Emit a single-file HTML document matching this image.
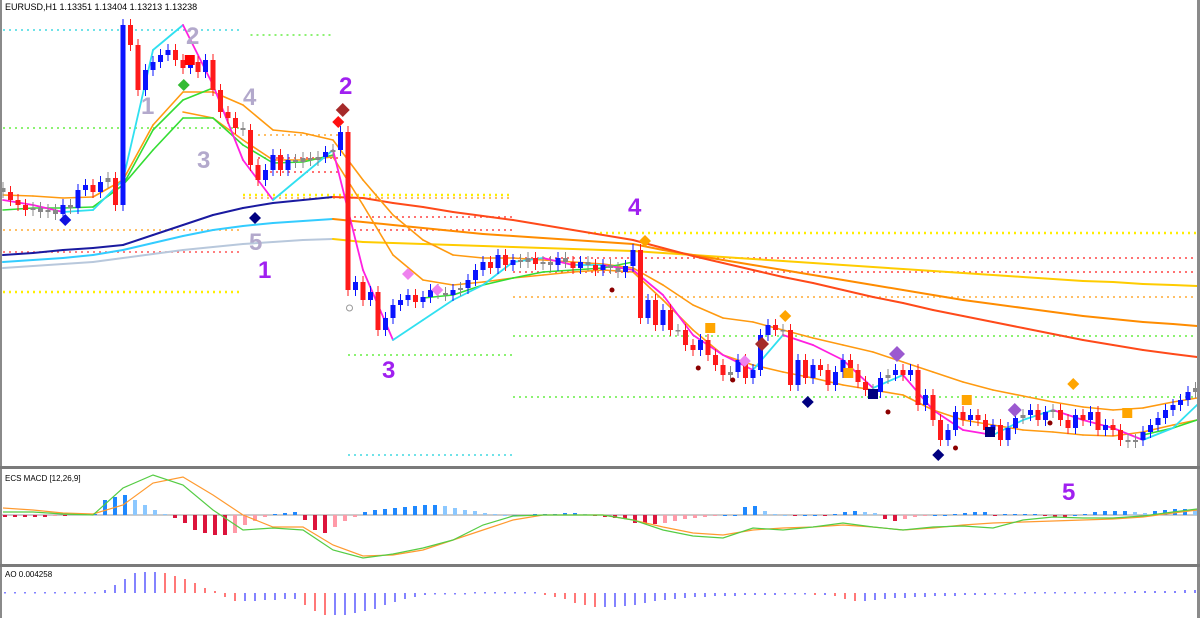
<!DOCTYPE html>
<html><head><meta charset="utf-8">
<style>
html,body{margin:0;padding:0;background:#fff;}
svg{display:block;font-family:"Liberation Sans",sans-serif;}
</style></head>
<body>
<svg id="chart" width="1200" height="618" viewBox="0 0 1200 618" xmlns="http://www.w3.org/2000/svg">
<rect x="0" y="0" width="1200" height="618" fill="#ffffff"/>
<g id="levels"></g>
<g id="mas"></g>
<g id="candles"></g>
<g id="markers"></g>
<g id="macd"></g>
<g id="ao"></g>
<rect x="0" y="0" width="2" height="618" fill="#8a8a8a"/>
<rect x="1197" y="0" width="3" height="618" fill="#8a8a8a"/>
<rect x="0" y="466" width="1200" height="3" fill="#7a7a7a"/>
<rect x="0" y="564" width="1200" height="3" fill="#7a7a7a"/>
<text x="5" y="10" font-size="9" fill="#000">EURUSD,H1  1.13351 1.13404 1.13213 1.13238</text>
<text x="5" y="481" font-size="8" fill="#000">ECS MACD [12,26,9]</text>
<text x="5" y="577" font-size="8" fill="#000">AO 0.004258</text>
<g font-weight="bold" font-size="24">
<text x="141" y="114" fill="#b3a9cc">1</text>
<text x="186" y="44" fill="#b3a9cc">2</text>
<text x="197" y="168" fill="#b3a9cc">3</text>
<text x="243" y="105" fill="#b3a9cc">4</text>
<text x="249" y="250" fill="#b3a9cc">5</text>
<text x="339" y="94" fill="#a020f0">2</text>
<text x="258" y="278" fill="#a020f0">1</text>
<text x="382" y="378" fill="#a020f0">3</text>
<text x="628" y="215" fill="#a020f0">4</text>
<text x="1062" y="500" fill="#a020f0">5</text>
</g>
</svg>
<script>
// ---------- DATA (price in points: 11324 = 1.1324) ----------
const closes = [11324,11320,11317.5,11315,11316,11314,11315,11313,11317.5,11316,
11325,11327.5,11324,11329,11331,11317.5,11407.5,11397.5,11375,11385,
11389,11392.5,11395,11390,11386,11389,11384,11390,11375,11364,
11361,11356,11355,11337.5,11330,11335,11342.5,11335,11340,11339,
11341,11340,11341.5,11344,11345,11354,11275,11279,11270,11274,
11255,11261,11267.5,11270,11272.5,11269,11271.5,11275,11273.5,11272.5,
11275,11276,11280,11285,11289,11286,11292.5,11287.5,11290,11289,
11291,11288,11289,11287.5,11291,11289,11286,11289,11287.5,11285,
11287.5,11286,11284,11287,11295,11261,11270,11257.5,11265,11255,
11255,11247.5,11245,11250,11242.5,11237.5,11232.5,11234,11240,11231,
11235,11252.5,11257.5,11255,11255,11227.5,11240,11231,11237.5,11235,
11227.5,11234,11240,11235,11229,11225,11224,11231,11232.5,11235,
11232.5,11235,11217.5,11222.5,11210,11200,11205,11214,11210,11212.5,
11210,11205,11207.5,11200,11206,11211,11212.5,11215,11210,11214,
11215,11210,11206,11212.5,11210,11214,11205,11207.5,11205,11200,
11199,11200,11204,11207.5,11211,11215,11217.5,11220,11224,11226];
const regimeChangeBar = 46;
const ma200 = [11292.5,11293.5,11295,11296,11297.5,11302.5,11307.5,11312.5,11316,11318.5,11320,11321.5,11321,11318.5,11316.5,11314,11312,11310,11307.5,11305,11302.5,11300,11296,11292,11288.5,11285,11281.5,11278.5,11275,11271.5,11268.5,11265,11262,11259,11256,11253,11250,11247.5,11245,11243,11241.5];
const ma100 = [11289,11290,11291,11292.5,11295,11298.5,11302,11305,11307,11308.5,11309.5,11310.5,11309,11307.5,11306,11304.5,11303,11302,11301,11300,11299,11298,11295,11292.5,11290,11287.5,11285,11282.5,11280,11277.5,11275,11272.5,11270,11268,11266,11264,11262,11260.5,11259,11258,11257];
const ma50 = [11286,11287,11288,11289,11291,11293,11295,11296.5,11298,11299,11300,11300.5,11299,11298.5,11298,11297.5,11297,11296.5,11296,11295.5,11295,11294.5,11293.5,11292.5,11291.5,11290.5,11289.5,11288.5,11287.5,11286.5,11285.5,11284.5,11283.5,11282.5,11281.5,11280.5,11279.5,11279,11278,11277.5,11277];
const bandUpper = [11322.5,11322,11321,11321.5,11330,11357.5,11374,11374,11367.5,11355,11353.5,11350,11330,11312.5,11300,11292.5,11291,11291,11290,11289,11288,11286,11277.5,11267.5,11261,11259,11255,11251,11247.5,11244,11239,11234,11229,11225,11222,11219,11216.5,11215,11216,11219,11221];
const bandLower = [null,null,null,null,null,null,11364,11361,11350,11340,11340,11341.5,11317.5,11292.5,11280,11277.5,11279,11281,11282.5,11284,11285,11284,11270,11255,11242.5,11237.5,11234,11231,11227.5,11225,11222.5,11215,11210,11207.5,11205,11204,11202.5,11202,11204,11207.5,11210];
const greenLine = [11315,11316,11316,11316.5,11327.5,11345,11361,11361,11347.5,11338.5,11339,11342.5,null,null,11271,11272.5,11277.5,11281,11284,11285,11286,11289,null,null,null,null,null,null,null,null,null,null,null,null,null,null,null,null,11202.5,11206,11210];
const greenUpper = [null,null,null,11316.5,11327.5,11355,11370,11376,null,null,null,null,null,null,null,null,null,null,null,null,null,null,null,null,null,null,null,null,null,null,null,null,null,null,null,null,null,null,null,null,null];
const fastLine = [11320,11317.5,11314,11315,11330,11395,11407.5,11377.5,11340,11320,11332.5,11345,11285,11250,11260,11270,11277.5,11289,11291,11287.5,11287.5,11285,11272.5,11252.5,11242.5,11235,11252.5,11247.5,11240,11226,11232.5,11215,11205,11202.5,11210,11215,11210,11206,11200,11206,11217.5];
const levelPrices = [11405,11356,11305,11274,11294,11402.5,11352.5,11341,11334,11322.5,11321,11311.5,11305,11242.5,11192.5,11303.5,11291,11284,11271.5,11252,11221.5];
const levelStart  = [0,0,0,0,0,33,34,34,34,32,32,46,46,46,46,78,68,68,68,68,68];
const levelEnd    = [32,32,32,32,32,44,45,45,45,68,68,68,68,68,68,160,160,160,160,160,160];
const levelColors = ["#40d8e0","#66ee44","#ffaa33","#ffee00","#ff5555","#66ee44","#ffaa33","#ff4444","#ff4444","#ffee00","#ffaa33","#ff4444","#ff4444","#66ee44","#40d8e0","#ffee00","#ff4444","#ff4444","#ffaa33","#66ee44","#66ee44"];
const markerBars   = [8.3,33.6,24.1,24.9,45.3,44.7,54,57.9,98.9,94.3,112.7,128.5,149.9,104.3,142.7,85.6,101.2,119.2,134.9,107.3,124.7,116,131.6,81.2,92.7,97.3,118,139.6,46.2,127];
const markerPrices = [11310,11311,11377.5,11390,11365,11359,11283,11275,11239.5,11256,11233.5,11220,11213.5,11262,11228,11299.5,11248,11243,11215,11219,11192.5,11223,11204,11275,11236,11230,11214,11208.5,11266,11196];
const markerTypes  = ["diamond","diamond","diamond","square","diamond","diamond","diamond","diamond","diamond","square","square","square","square","diamond","diamond","diamond","diamond","diamond","diamond","diamond","diamond","square","square","dot","dot","dot","dot","dot","circle","dot"];
const markerColors = ["#1010e0","#000080","#33bb33","#ff0000","#a52a2a","#ff1010","#ee82ee","#ee82ee","#ee82ee","#ffa500","#ffa500","#ffa500","#ffa500","#ffa500","#ffa500","#ffa500","#a52a2a","#9b59d0","#9b59d0","#000080","#000080","#000080","#000080","#8b0000","#8b0000","#8b0000","#8b0000","#8b0000","#999999","#8b0000"];
const markerSizes  = [6,6,6,6,7,6,6,6,6,6,6,6,6,6,6,6,7,8,7,6,6,6,6,2.5,2.5,2.5,2.5,2.5,3,2.5];
const macdHist = [-2,-2,-2,-2,-2,-1,-1,1,1,1,
15,18,20,15,10,5,1,-3,-8,-15,
-18,-20,-20,-18,-10,-6,-2,1,2,3,
-5,-15,-18,-12,-6,-2,3,5,6,7,
8,9,10,10,9,7,5,4,2,1,
0,0,0,1,1,1,2,2,1,-1,
-2,-3,-4,-8,-9,-9,-8,-6,-4,-3,
-2,-1,0,0,8,9,4,1,0,-1,
0,0,-1,1,3,4,3,2,-4,-6,
-4,-2,-1,0,0,1,2,3,3,-1,
1,1,1,1,-1,-2,-2,0,1,3,
4,4,4,3,2,4,5,6,6,5];
const macdMain = [3,3,1,0,27,40,30,5,-15,-13,-15,-35,-43,-39,-33,-25,-10,-1,0,0,0,-5,-15,-21,-23,-13,-15,-12,-8,-12,-15,-12,-11,-13,-5,-2,-3,-3,-1,3,6];
const macdSignal = [7,5,2,1,10,32,38,20,0,-12,-12,-30,-41,-40,-35,-25,-15,-5,0,0,0,-5,-12,-18,-20,-15,-13,-12,-10,-12,-15,-13,-10,-8,-7,-6,-5,-4,-2,2,5];
const aoVals = [1,1,1,1,1,1,1,1,1,1,
3,8,14,20,21,21,20,17,14,10,
5,2,-4,-8,-8,-8,-7,-7,-6,-6,
-12,-18,-22,-22,-22,-20,-18,-16,-12,-9,
-6,-4,-2,-1,-1,-1,-1,1,1,1,
1,1,1,1,-2,-4,-6,-10,-12,-14,
-14,-14,-13,-12,-10,-8,-7,-6,-5,-4,
-4,-3,-3,-3,-2,-2,-2,-2,-1,-1,
-1,-2,-2,-3,-6,-8,-8,-7,-6,-5,
-5,-4,-4,-3,-3,-3,-2,-2,-2,-1,
-1,-1,1,1,1,1,1,1,1,1,
1,1,1,2,2,2,2,2,3,3];

// ---------- SCALES ----------
const NS = "http://www.w3.org/2000/svg";
const xBar = i => 3 + 7.5 * i;
const yP = p => (11420 - p) * 2;
const xSample = k => xBar(4 * k);
const xInd = i => 5 + 10 * i;
const yMacd = v => 515 - v;
const yAo = v => 593 - v;
function mk(tag, attrs, parent){const e=document.createElementNS(NS,tag);for(const k in attrs)e.setAttribute(k,attrs[k]);parent.appendChild(e);return e;}

// levels
const gl = document.getElementById('levels');
levelPrices.forEach((p,i)=>{
  const l = mk('line',{x1:xBar(levelStart[i]),x2:Math.min(1196,xBar(levelEnd[i])),y1:yP(p),y2:yP(p),stroke:levelColors[i],'stroke-width':(levelColors[i]=="#ffee00"?2.5:1.5),'stroke-dasharray':'2 4'},gl);
  
  
});

// moving averages
const gm = document.getElementById('mas');
function drawLine(arr, colorFn, width, name){
  for(let k=0;k<arr.length-1;k++){
    if(arr[k]==null||arr[k+1]==null) continue;
    const s = mk('line',{x1:xSample(k),y1:yP(arr[k]),x2:Math.min(1197,xSample(k+1)),y2:yP(arr[k+1]),stroke:colorFn(k),'stroke-width':width,'stroke-linecap':'round'},gm);
    
    
  }
}
const before = k => 4*(k+1) <= regimeChangeBar+1;
drawLine(ma50, k=>before(k)?"#b8c8dc":"#ffcc00", 2, 'ma-slow-line');
drawLine(ma100, k=>before(k)?"#33ccff":"#ff8c00", 2, 'ma-mid-line');
drawLine(ma200, k=>before(k)?"#1a1aa0":"#ff4a1a", 2, 'ma-long-line');
drawLine(bandUpper, k=>"#ff9a10", 1.6, 'band-upper-line');
drawLine(bandLower, k=>"#ff9a10", 1.6, 'band-lower-line');
drawLine(greenUpper, k=>"#33dd33", 1.6, 'trend-upper-line');
drawLine(greenLine, k=>"#33dd33", 1.6, 'trend-line');
drawLine(fastLine, k=>fastLine[k+1]<fastLine[k]?"#ff20e0":"#30e0f0", 1.8, 'fast-line');

// candles
const gc = document.getElementById('candles');
closes.forEach((c,i)=>{
  const o = i===0 ? c+2 : closes[i-1];
  const hi = Math.max(o,c)+3, lo = Math.min(o,c)-3;
  const col = Math.abs(c-o)<2.2 ? "#888888" : (c>o ? "#0a14ff" : "#ff1a1a");
  const x = xBar(i);
  const w = mk('line',{x1:x,x2:x,y1:yP(hi),y2:yP(lo),stroke:col,'stroke-width':1},gc);
  
  
  const top = yP(Math.max(o,c)), bot = yP(Math.min(o,c));
  const b = mk('rect',{x:x-2.5,y:top,width:5,height:Math.max(1.5,bot-top),fill:col},gc);
  
  
});

// markers
const gk = document.getElementById('markers');
markerBars.forEach((b,i)=>{
  const x = xBar(b), y = yP(markerPrices[i]), s = markerSizes[i], t = markerTypes[i];
  let e;
  if(t==='diamond') e = mk('polygon',{points:`${x},${y-s} ${x+s},${y} ${x},${y+s} ${x-s},${y}`,fill:markerColors[i]},gk);
  else if(t==='square') e = mk('rect',{x:x-s+1,y:y-s+1,width:2*s-2,height:2*s-2,fill:markerColors[i]},gk);
  else if(t==='circle') e = mk('circle',{cx:x,cy:y,r:s,fill:'none',stroke:markerColors[i],'stroke-width':1},gk);
  else e = mk('circle',{cx:x,cy:y,r:s,fill:markerColors[i]},gk);
  
  
});

// MACD
const gmd = document.getElementById('macd');
const z = mk('line',{x1:2,x2:1197,y1:yMacd(0),y2:yMacd(0),stroke:'#999','stroke-width':1},gmd);


macdHist.forEach((v,i)=>{
  const prev = i>0?macdHist[i-1]:0;
  let col;
  if(v>=0) col = v>=prev ? "#1e88ff" : "#8cc8ff";
  else col = v<=prev ? "#dc143c" : "#ff9aa8";
  const y1 = yMacd(Math.max(v,0)), y2 = yMacd(Math.min(v,0));
  const r = mk('rect',{x:xInd(i)-2,y:y1,width:4,height:Math.max(1,y2-y1),fill:col},gmd);
  
  
});
function macdLine(arr,col,name){
  const pts = arr.map((v,k)=>`${Math.min(1197,xSample(k))},${yMacd(v)}`).join(' ');
  const p = mk('polyline',{points:pts,fill:'none',stroke:col,'stroke-width':1.2},gmd);
  
  
}
macdLine(macdSignal,'#ff9a30','macd-signal-line');
macdLine(macdMain,'#55cc44','macd-main-line');

// AO
const ga = document.getElementById('ao');
aoVals.forEach((v,i)=>{
  const prev = i>0?aoVals[i-1]:v;
  const col = v>=prev ? "#4040ff" : "#ff3030";
  const y1 = yAo(Math.max(v,0)), y2 = yAo(Math.min(v,0));
  const l = mk('line',{x1:xInd(i),x2:xInd(i),y1:y1,y2:Math.max(y2,y1+1.5),stroke:col,'stroke-width':1.3},ga);
  
  
});
</script>
</body></html>
